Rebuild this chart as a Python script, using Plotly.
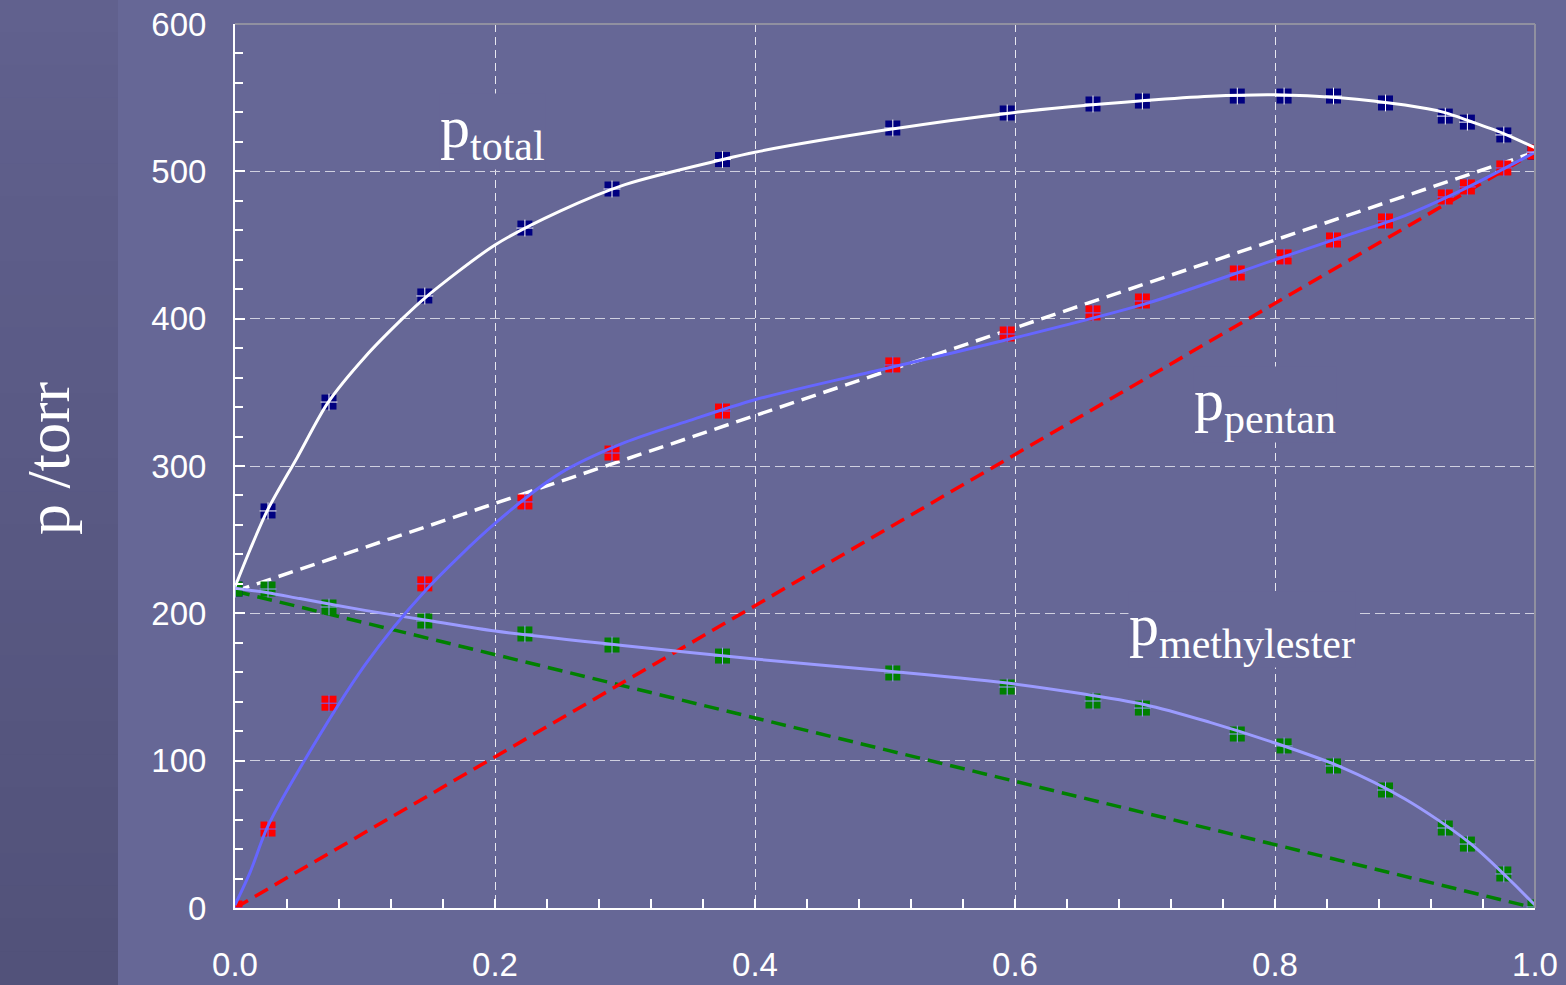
import plotly.graph_objects as go

# ---- data ----
x_meas = [0.0, 0.0254, 0.0723, 0.146, 0.223, 0.290, 0.375, 0.506, 0.594, 0.660,
          0.698, 0.771, 0.807, 0.845, 0.885, 0.931, 0.948, 0.976, 1.0]
p_total_meas = [216.5, 269.5, 343.4, 415.4, 461.5, 488.0, 508.0, 529.4, 539.6, 545.7,
                547.7, 551.1, 551.1, 551.1, 546.4, 537.5, 533.4, 524.7, 513.0]
p_pentan_meas = [0.0, 53.6, 139.0, 220.0, 275.6, 308.8, 337.3, 368.6, 389.6, 403.9,
                 412.0, 431.0, 441.9, 453.4, 466.3, 482.6, 489.4, 502.3, 513.1]
p_ester_meas = [216.5, 216.5, 204.3, 194.8, 186.0, 178.5, 171.0, 159.5, 150.0, 140.5,
                135.7, 118.1, 110.0, 96.4, 80.1, 54.3, 43.4, 23.1, 0.7]

x_fit_total = [0.0, 0.0115, 0.025, 0.048, 0.0715, 0.1, 0.13, 0.146, 0.2, 0.25, 0.3, 0.375,
               0.4, 0.5, 0.6, 0.7, 0.75, 0.8, 0.85, 0.9, 0.93, 0.95, 0.975, 1.0]
p_total_fit = [218, 243, 270, 306, 343, 374, 401, 414, 450, 473, 491, 508,
               513, 528, 540, 548, 551, 552, 550, 545, 540, 534, 526, 516]

x_fit_pentan = [0.0, 0.0115, 0.025, 0.048, 0.1, 0.146, 0.2, 0.25, 0.3, 0.35, 0.4,
                0.5, 0.6, 0.7, 0.8, 0.85, 0.9, 0.95, 1.0]
p_pentan_fit = [2, 24, 55, 92, 165, 215, 261, 295, 316, 331, 345,
                366, 387, 410, 440, 455, 470, 490, 513]

x_fit_ester = [0.0, 0.025, 0.05, 0.1, 0.15, 0.2, 0.3, 0.4, 0.5, 0.6, 0.7, 0.75,
               0.8, 0.85, 0.9, 0.95, 1.0]
p_ester_fit = [217, 214, 210, 202, 195, 188, 178, 169, 161, 152, 138, 126,
               112, 96, 74, 44, 2]

x_ideal = [0.0, 1.0]
p_pentan_ideal = [0.0, 513.0]
p_ester_ideal = [215.0, 0.0]
p_total_ideal = [215.0, 513.0]

x_ticks = [0.0, 0.2, 0.4, 0.6, 0.8, 1.0]
y_ticks = [0, 100, 200, 300, 400, 500, 600]

BG = "#666796"
WHITE = "#ffffff"
BLUE = "#6666ff"
LBLUE = "#9b9bff"
RED = "#ff0000"
GREEN = "#008000"
NAVY = "#000080"

fig = go.Figure()

# dashed ideal lines
DASH = "15px,8px"
fig.add_trace(go.Scatter(x=x_ideal, y=p_ester_ideal, mode="lines",
                         line=dict(color=GREEN, width=3.5, dash=DASH)))
fig.add_trace(go.Scatter(x=x_ideal, y=p_pentan_ideal, mode="lines",
                         line=dict(color=RED, width=3.5, dash=DASH)))
fig.add_trace(go.Scatter(x=x_ideal, y=p_total_ideal, mode="lines",
                         line=dict(color=WHITE, width=3.5, dash=DASH)))

# square markers
fig.add_trace(go.Scatter(x=x_meas, y=p_total_meas, mode="markers",
                         marker=dict(symbol="square", size=15, color=NAVY)))
fig.add_trace(go.Scatter(x=x_meas, y=p_ester_meas, mode="markers",
                         marker=dict(symbol="square", size=15, color=GREEN)))
fig.add_trace(go.Scatter(x=x_meas, y=p_pentan_meas, mode="markers",
                         marker=dict(symbol="square", size=15, color=RED)))

# fitted curves
fig.add_trace(go.Scatter(x=x_fit_ester, y=p_ester_fit, mode="lines",
                         line=dict(color=LBLUE, width=3, shape="spline", smoothing=0.8)))
fig.add_trace(go.Scatter(x=x_fit_pentan, y=p_pentan_fit, mode="lines",
                         line=dict(color=BLUE, width=3, shape="spline", smoothing=0.8)))
fig.add_trace(go.Scatter(x=x_fit_total, y=p_total_fit, mode="lines",
                         line=dict(color=WHITE, width=3, shape="spline", smoothing=0.8)))

# crosses on markers
fig.add_trace(go.Scatter(x=x_meas, y=p_total_meas, mode="markers",
                         marker=dict(symbol="cross-thin", size=12,
                                     line=dict(color=WHITE, width=1))))
fig.add_trace(go.Scatter(x=x_meas, y=p_ester_meas, mode="markers",
                         marker=dict(symbol="cross-thin", size=12,
                                     line=dict(color=LBLUE, width=1))))
fig.add_trace(go.Scatter(x=x_meas, y=p_pentan_meas, mode="markers",
                         marker=dict(symbol="cross-thin", size=12,
                                     line=dict(color=BLUE, width=1))))

# left darker gradient strip
shapes = []
n = 30
for i in range(n):
    t = i / (n - 1)
    r = int(97 - 15 * t)
    g = int(97 - 15 * t)
    b = int(142 - 20 * t)
    shapes.append(dict(type="rect", xref="paper", yref="paper", layer="below",
                       x0=-235 / 1300, x1=(118 - 235) / 1300,
                       y0=(985 - 77) / 884 - (i + 1) * (985 / 884) / n,
                       y1=(985 - 77) / 884 - i * (985 / 884) / n + 0.001,
                       line=dict(width=0), fillcolor=f"rgb({r},{g},{b})"))
# top and right gray frame
shapes.append(dict(type="line", xref="paper", yref="paper", x0=0, x1=1, y0=1, y1=1,
                   line=dict(color="#9090a0", width=2)))
shapes.append(dict(type="line", xref="paper", yref="paper", x0=1, x1=1, y0=0, y1=1,
                   line=dict(color="#9090a0", width=2)))

serif = "Liberation Serif, Times New Roman, serif"
ann_font = dict(family=serif, size=60, color=WHITE)
annotations = [
    dict(x=0.157, y=527, xref="x", yref="y", xanchor="left", yanchor="middle",
         text="p<sub>total</sub>", showarrow=False, font=ann_font, bgcolor=BG, borderpad=0),
    dict(x=0.737, y=342, xref="x", yref="y", xanchor="left", yanchor="middle",
         text="p<sub>pentan</sub>", showarrow=False, font=ann_font, bgcolor=BG, borderpad=0),
    dict(x=0.687, y=189, xref="x", yref="y", xanchor="left", yanchor="middle",
         text="p<sub>methylester</sub>", showarrow=False, font=ann_font, bgcolor=BG, borderpad=0),
    dict(x=-187 / 1300, y=(908 - 458) / 884, xref="paper", yref="paper",
         xanchor="center", yanchor="middle", textangle=-90,
         text="p /torr", showarrow=False,
         font=dict(family=serif, size=62, color=WHITE)),
]

fig.update_layout(
    width=1566, height=985,
    margin=dict(l=235, r=31, t=24, b=77, autoexpand=False),
    paper_bgcolor=BG, plot_bgcolor=BG,
    showlegend=False,
    shapes=shapes,
    annotations=annotations,
    font=dict(family="Liberation Sans, Arial, sans-serif", color=WHITE),
    xaxis=dict(range=[0, 1], tickvals=x_ticks, ticktext=[f"{v:.1f}" for v in x_ticks],
               tickfont=dict(size=33, color=WHITE),
               showgrid=True, gridcolor="#e8e8f0", griddash="8px,5px", gridwidth=1,
               showline=True, linecolor=WHITE, linewidth=2,
               ticks="inside", ticklen=9, tickcolor=WHITE, tickwidth=1.5,
               minor=dict(dtick=0.04, ticks="inside", ticklen=9, tickcolor=WHITE,
                          tickwidth=1.5, showgrid=False),
               ticklabelstandoff=26, zeroline=False),
    yaxis=dict(range=[0, 600], tickvals=y_ticks,
               tickfont=dict(size=33, color=WHITE),
               showgrid=True, gridcolor="#d0d0e0", griddash="10px,5px", gridwidth=1,
               showline=True, linecolor=WHITE, linewidth=2,
               ticks="inside", ticklen=10, tickcolor=WHITE, tickwidth=1.5,
               minor=dict(dtick=20, ticks="inside", ticklen=8, tickcolor=WHITE,
                          tickwidth=1.5, showgrid=False),
               ticklabelstandoff=20, zeroline=False),
)

fig.write_html(
    "out.html",
    config={"displayModeBar": False},
    post_script="document.body.style.margin='0px';"
                "document.body.style.overflow='hidden';"
                "document.body.style.background='#666796';",
)
